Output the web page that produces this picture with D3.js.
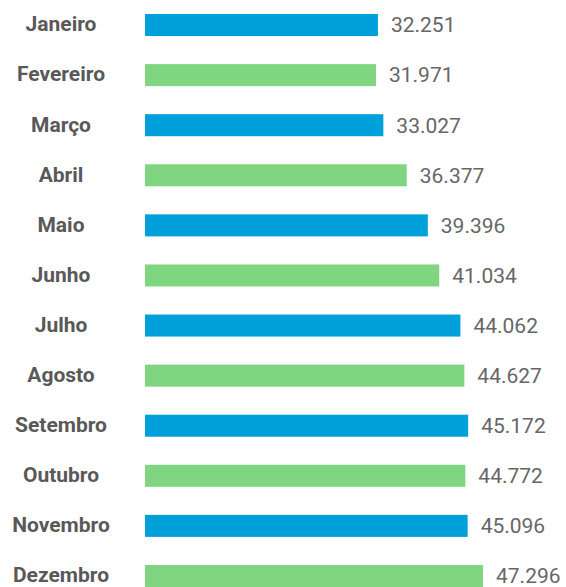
<!DOCTYPE html>
<html>
<head>
<meta charset="utf-8">
<script src="https://cdn.jsdelivr.net/npm/d3@7"></script>
<style>
  body { margin: 0; background: #fff; }
  svg { display: block; font-family: Roboto, sans-serif; }
</style>
</head>
<body>
<svg id="chart"></svg>
<script>
// data
var months = ['Janeiro','Fevereiro','Março','Abril','Maio','Junho','Julho','Agosto','Setembro','Outubro','Novembro','Dezembro'];
var values = [32251, 31971, 33027, 36377, 39396, 41034, 44062, 44627, 45172, 44772, 45096, 47296];
var colors = ['#00a0da', '#80d680'];

var width = 566, height = 587;
var barLeft = 145;

var svg = d3.select('#chart')
    .attr('width', width)
    .attr('height', height);

// bars do not start at zero exactly in the original
var x = d3.scaleLinear()
    .domain([-1100, d3.max(values)])
    .range([0, 338]);

var y = d3.scaleBand()
    .domain(months)
    .range([0, 601])
    .paddingInner(0.56)
    .paddingOuter(0.28);

var ptBR = d3.formatLocale({ decimal: ',', thousands: '.', grouping: [3], currency: ['R$', ''] });
var fmt = ptBR.format(',d');

var rows = svg.selectAll('.row')
    .data(months)
    .enter()
    .append('g')
    .attr('class', 'row')
    .attr('transform', function(d) { return 'translate(0,' + y(d) + ')'; });

rows.append('rect')
    .attr('x', barLeft)
    .attr('y', 0)
    .attr('width', function(d, i) { return x(values[i]); })
    .attr('height', y.bandwidth())
    .attr('fill', function(d, i) { return colors[i % 2]; });

// month labels
rows.append('text')
    .attr('x', 61)
    .attr('y', y.bandwidth() / 2)
    .attr('dy', '0.3em')
    .attr('text-anchor', 'middle')
    .style('font-size', '21px')
    .style('font-weight', 'bold')
    .style('fill', '#595959')
    .text(function(d) { return d; });

// value labels
rows.append('text')
    .attr('x', function(d, i) { return barLeft + x(values[i]) + 13; })
    .attr('y', y.bandwidth() / 2)
    .attr('dy', '0.35em')
    .style('font-size', '21px')
    .style('fill', '#666')
    .text(function(d, i) { return fmt(values[i]); });
</script>
</body>
</html>
